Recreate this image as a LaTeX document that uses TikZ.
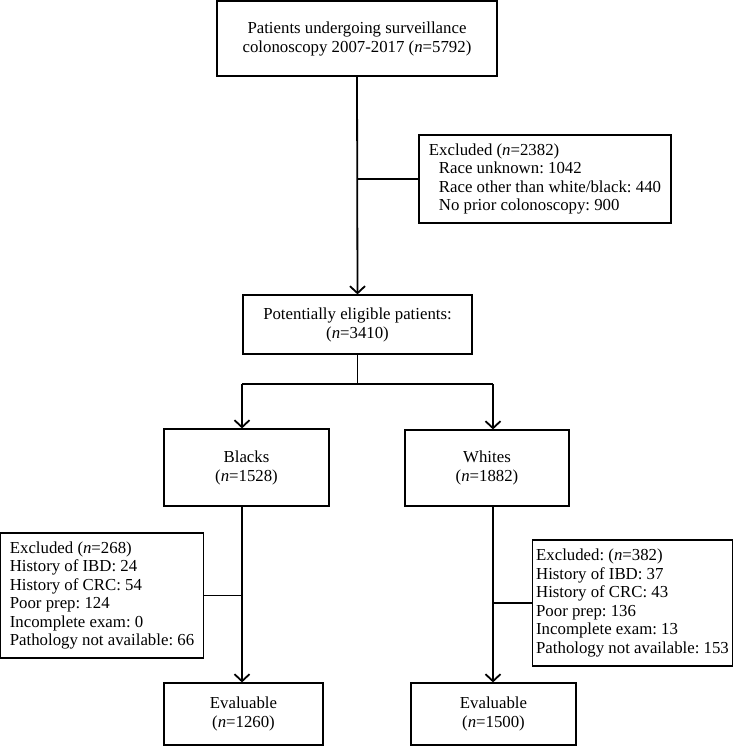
\documentclass[tikz,border=0pt]{standalone}
\usepackage{fontspec}
\setmainfont{Liberation Serif}
\usetikzlibrary{arrows.meta}

\begin{document}
\begin{tikzpicture}[x=1pt, y=-1pt,
    box/.style={draw, line width=1.2pt, inner sep=0pt, font=\fontsize{16.8}{19}\selectfont\frenchspacing, align=center},
    listbox/.style={draw, line width=1.2pt, inner ysep=0pt, font=\fontsize{16.8}{18.5}\selectfont\frenchspacing, align=left},
    link/.style={line width=1.2pt},
    flow/.style={line width=1.8pt, -{Straight Barb[length=7pt, width=15pt]}}]

    \useasboundingbox (0,0) rectangle (748,747);

    \node (start) at ( 357, 38.5 ) [box, minimum width=280, minimum height=75] {Patients undergoing surveillance\\colonoscopy 2007-2017 (\textit{n}=5792)};

    \node (excl0) at ( 545, 179 ) [listbox, minimum height=88, inner xsep=10pt] {Excluded (\textit{n}=2382)\\
        \hspace*{10pt}Race unknown: 1042\\
        \hspace*{10pt}Race other than white/black: 440\\
        \hspace*{10pt}No prior colonoscopy: 900};

    \node (elig) at ( 357.5, 324.5 ) [box, minimum width=229, minimum height=59] {Potentially eligible patients:\\(\textit{n}=3410)};

    \node (black) at ( 246.5, 467.5 ) [box, minimum width=165, minimum height=77] {Blacks\\(\textit{n}=1528)};
    \node (white) at ( 487, 468 ) [box, minimum width=164, minimum height=76] {Whites\\(\textit{n}=1882)};

    \node (excl1) at ( 102, 595.5 ) [listbox, minimum height=125, inner xsep=9pt] {Excluded (\textit{n}=268)\\History of IBD: 24\\History of CRC: 54\\Poor prep: 124\\Incomplete exam: 0\\Pathology not available: 66};
    \node (excl2) at ( 632.5, 603 ) [listbox, minimum height=126, inner xsep=3.5pt] {Excluded: (\textit{n}=382)\\History of IBD: 37\\History of CRC: 43\\Poor prep: 136\\Incomplete exam: 13\\Pathology not available: 153};

    \node (eval1) at ( 243.5, 714 ) [box, minimum width=159, minimum height=62] {Evaluable\\(\textit{n}=1260)};
    \node (eval2) at ( 493.5, 714 ) [box, minimum width=165, minimum height=62] {Evaluable\\(\textit{n}=1500)};

    % split points under the eligible box
    \coordinate (split) at ( 357.5, 384 );
    \coordinate (colB) at ( 242, 384 );
    \coordinate (colW) at ( 493, 384 );

    \draw[flow] (start.south) -- (elig.north);
    \draw[link] (start.south |- excl0.west) -- (excl0.west);

    \draw[link] (elig.south) -- (split);
    \draw[link] (colB) -- (colW);
    \draw[flow] (colB) -- (colB |- black.north);
    \draw[flow] (colW) -- (colW |- white.north);

    \draw[flow] (colB |- black.south) -- (colB |- eval1.north);
    \draw[flow] (colW |- white.south) -- (colW |- eval2.north);
    \draw[link] (colB |- excl1.east) -- (excl1.east);
    \draw[link] (colW |- excl2.west) -- (excl2.west);

\end{tikzpicture}
\end{document}
